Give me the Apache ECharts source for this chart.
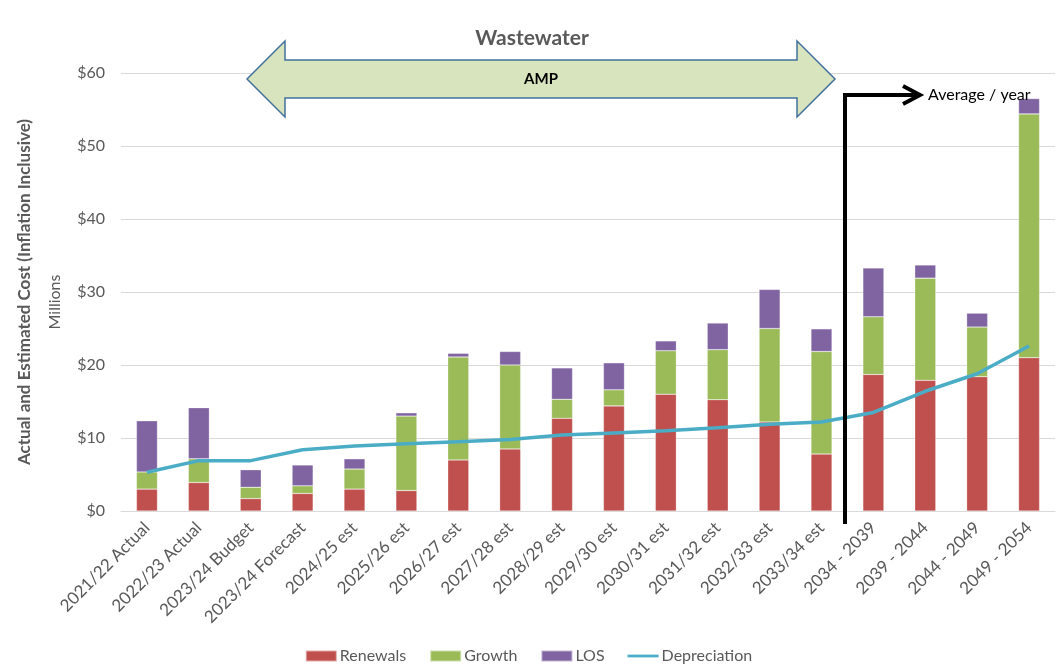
<!DOCTYPE html>
<html>
<head>
<meta charset="utf-8">
<script src="https://cdn.jsdelivr.net/npm/echarts@6/dist/echarts.min.js"></script>
<style>
html,body{margin:0;padding:0;background:#fff;}
#main{width:1057px;height:669px;}
</style>
</head>
<body>
<div id="main"></div>
<script>
// categories and values (millions $)
let categories = ['2021/22 Actual','2022/23 Actual','2023/24 Budget','2023/24 Forecast','2024/25 est','2025/26 est',
    '2026/27 est','2027/28 est','2028/29 est','2029/30 est','2030/31 est','2031/32 est','2032/33 est','2033/34 est',
    '2034 - 2039','2039 - 2044','2044 - 2049','2049 - 2054'];
let renewals = [3.0,3.9,1.7,2.4,3.0,2.8,7.0,8.5,12.7,14.4,16.0,15.25,12.2,7.8,18.7,17.9,18.4,21.0];
let growth = [2.35,3.25,1.55,1.05,2.75,10.2,14.1,11.5,2.6,2.2,5.95,6.85,12.8,14.05,7.9,14.0,6.8,33.4];
let los = [7.0,7.0,2.4,2.85,1.4,0.45,0.5,1.85,4.3,3.7,1.35,3.65,5.35,3.1,6.7,1.8,1.9,2.1];
let depreciation = [5.3,6.9,6.9,8.4,8.9,9.2,9.5,9.8,10.4,10.7,11.0,11.4,11.9,12.2,13.5,16.4,18.8,22.6];
let yTicks = [0,10,20,30,40,50,60];

let font = 'Lato, "Open Sans", sans-serif';
let chart = echarts.init(document.getElementById('main'));

function barSeries(name, data, color) {
    return {
        name: name,
        type: 'bar',
        stack: 'cost',
        barWidth: 21,
        data: data,
        itemStyle: {color: color, borderColor: 'rgba(255,255,255,0.5)', borderWidth: 0.5}
    };
}

let option = {
    animation: false,
    textStyle: {fontFamily: font},
    grid: {left: 121, right: 2, top: 73, bottom: 158},
    legend: {
        bottom: 0,
        left: 'center',
        itemWidth: 31,
        itemHeight: 11,
        itemGap: 23,
        textStyle: {color: '#595959', fontSize: 16, fontFamily: font, padding: [0, 0, 0, -2]},
        data: [
            {name: 'Renewals', icon: 'rect'},
            {name: 'Growth', icon: 'rect'},
            {name: 'LOS', icon: 'rect'},
            // thin line icon, with the move points padding the box to full height
            {name: 'Depreciation', icon: 'path://M0,0 M0,11 M0,4 L34,4 L34,7 L0,7 Z'}
        ]
    },
    xAxis: {
        type: 'category',
        data: categories,
        axisLine: {lineStyle: {color: '#d9d9d9'}},
        axisTick: {show: false},
        axisLabel: {rotate: 45, color: '#595959', fontSize: 17, margin: 14, interval: 0}
    },
    yAxis: {
        type: 'value',
        min: yTicks[0],
        max: yTicks[yTicks.length - 1],
        interval: 10,
        axisLine: {show: false},
        axisTick: {show: false},
        splitLine: {lineStyle: {color: '#d9d9d9', width: 1}},
        axisLabel: {color: '#595959', fontSize: 16, margin: 16, formatter: function (v) { return '$' + v; }}
    },
    series: [
        barSeries('Renewals', renewals, '#c0504d'),
        barSeries('Growth', growth, '#9bbb59'),
        barSeries('LOS', los, '#8064a2'),
        {
            name: 'Depreciation',
            type: 'line',
            data: depreciation,
            symbol: 'none',
            lineStyle: {color: '#4bacc6', width: 3.5},
            itemStyle: {color: '#4bacc6'},
            z: 5
        }
    ],
    graphic: [
        // title
        {type: 'text', x: 532, y: 38, style: {text: 'Wastewater', fill: '#595959', font: 'bold 21px ' + font, align: 'center', verticalAlign: 'middle'}},
        // axis names
        {type: 'text', x: 25, y: 292, rotation: Math.PI / 2, style: {text: 'Actual and Estimated Cost (Inflation Inclusive)', fill: '#595959', font: 'bold 17px ' + font, align: 'center', verticalAlign: 'middle'}},
        {type: 'text', x: 55, y: 302, rotation: Math.PI / 2, style: {text: 'Millions', fill: '#595959', font: '16px ' + font, align: 'center', verticalAlign: 'middle'}},
        // AMP double arrow
        {type: 'polygon', shape: {points: [[247, 79], [285, 41], [285, 60], [797, 60], [797, 41], [835, 79], [797, 117], [797, 98], [285, 98], [285, 117]]},
            style: {fill: '#d7e4bd', stroke: '#41719c', lineWidth: 1.5}, z: 10},
        {type: 'text', x: 541, y: 79, z: 11, style: {text: 'AMP', fill: '#000', font: 'bold 15px ' + font, align: 'center', verticalAlign: 'middle'}},
        // average / year bracket
        {type: 'polyline', shape: {points: [[845, 524], [845, 95], [919, 95]]}, style: {stroke: '#000', lineWidth: 4, fill: null}, z: 10},
        {type: 'polyline', shape: {points: [[903, 86], [920, 95], [903, 104]]}, style: {stroke: '#000', lineWidth: 4, fill: null}, z: 10},
        {type: 'text', x: 928, y: 95, z: 11, style: {text: 'Average / year', fill: '#000', font: '16px ' + font, align: 'left', verticalAlign: 'middle'}}
    ]
};
chart.setOption(option);
</script>
</body>
</html>
